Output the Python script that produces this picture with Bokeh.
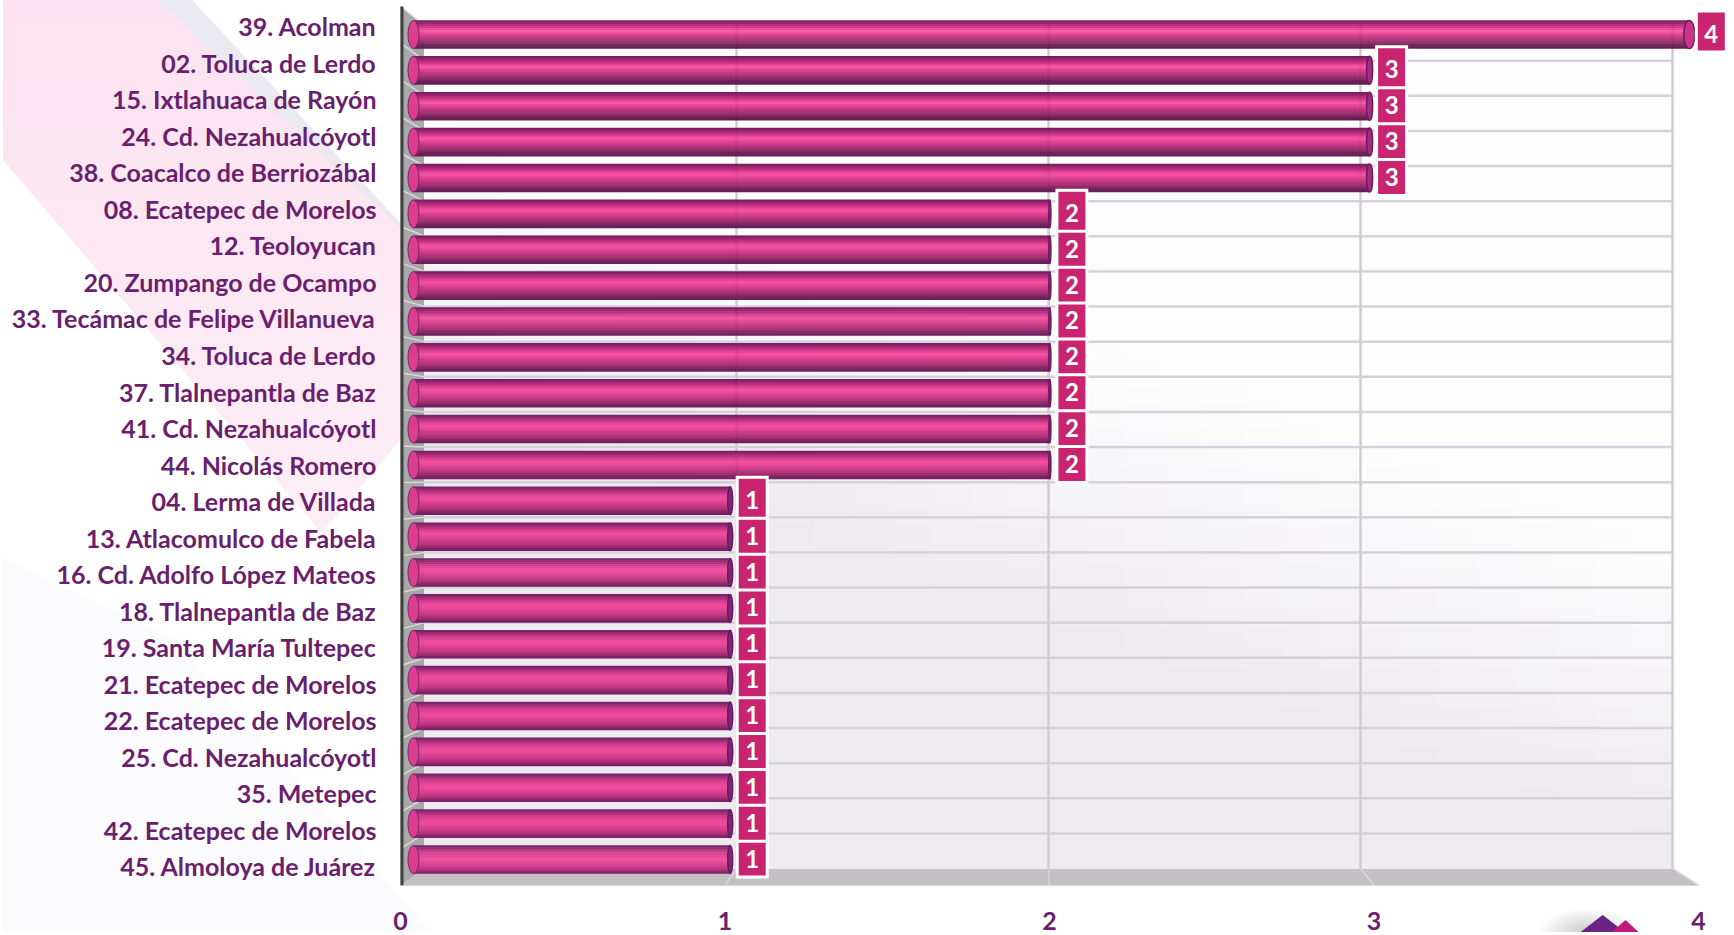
from urllib.parse import quote
from bokeh.plotting import figure
from bokeh.models import Range1d, LinearAxis, FixedTicker
from bokeh.core.properties import value
from bokeh.embed import file_html
from bokeh.resources import INLINE

categories = [
    "39. Acolman", "02. Toluca de Lerdo", "15. Ixtlahuaca de Rayón", "24. Cd. Nezahualcóyotl",
    "38. Coacalco de Berriozábal", "08. Ecatepec de Morelos", "12. Teoloyucan", "20. Zumpango de Ocampo",
    "33. Tecámac de Felipe Villanueva", "34. Toluca de Lerdo", "37. Tlalnepantla de Baz",
    "41. Cd. Nezahualcóyotl", "44. Nicolás Romero", "04. Lerma de Villada", "13. Atlacomulco de Fabela",
    "16. Cd. Adolfo López Mateos", "18. Tlalnepantla de Baz", "19. Santa María Tultepec",
    "21. Ecatepec de Morelos", "22. Ecatepec de Morelos", "25. Cd. Nezahualcóyotl", "35. Metepec",
    "42. Ecatepec de Morelos", "45. Almoloya de Juárez",
]
values = [4, 3, 3, 3, 3, 2, 2, 2, 2, 2, 2, 2, 2, 1, 1, 1, 1, 1, 1, 1, 1, 1, 1, 1]
x_ticks = [0, 1, 2, 3, 4]

TEXT = "#6a1f6e"
PINK = "#c9246f"
FONT = "Lato"

W, H = 1734, 935
FL, FT, FR, FB = 400, 0, 1734, 885   # frame in canvas pixels
PXU = 324.5     # front plane: pixels per unit
ROW = 35.87     # pixels per bar row
R0 = 34         # y of first bar centre

# Page decoration, painted as the figure's CSS background
BG_SVG = (
    "<svg xmlns='http://www.w3.org/2000/svg' width='1734' height='935' viewBox='0 0 1734 935'>"
    "<defs><linearGradient id='a' x1='0' y1='0' x2='0' y2='1'>"
    "<stop offset='0' stop-color='#fbe2f0'/><stop offset='1' stop-color='#fdeef6'/></linearGradient>"
    "<radialGradient id='g'><stop offset='0' stop-color='#c8c8c8'/>"
    "<stop offset='1' stop-color='#ffffff'/></radialGradient></defs>"
    "<rect x='0' y='0' width='1734' height='935' fill='#ffffff'/>"
    "<polygon points='0,560 170,640 430,935 0,935' fill='#fbfafc'/>"
    "<polygon points='150,0 190,0 400,225 400,300' fill='#ebe9f0'/>"
    "<polygon points='0,0 155,0 400,230 400,440 320,535 0,160' fill='url(#a)'/>"
    "<ellipse cx='1590' cy='935' rx='50' ry='24' fill='url(#g)'/>"
    "<polygon points='1583,935 1605,918 1627,935' fill='#6a2382'/>"
    "<polygon points='1614,935 1628,923 1641,935' fill='#c4197c'/>"
    "</svg>"
)

p = figure(width=W, height=H, frame_width=FR - FL, frame_height=FB - FT,
           output_backend="svg", toolbar_location=None,
           x_axis_location=None, y_axis_location=None,
           min_border_left=FL, min_border_right=0,
           min_border_top=0, min_border_bottom=0,
           x_range=Range1d(0, (FR - FL) / PXU),
           y_range=Range1d((FB - R0) / ROW, (FT - R0) / ROW),
           outline_line_color=None, background_fill_color=None, border_fill_color=None)
p.styles = {"background-image": 'url("data:image/svg+xml,%s")' % quote(BG_SVG),
            "background-size": "100% 100%", "background-repeat": "no-repeat"}
p.grid.visible = False


def xd(px):
    return (px - FL) / PXU


def yd(py):
    return (py - R0) / ROW


def mix(a, b, t):
    t = max(0.0, min(1.0, t))
    ca = [int(a[i:i + 2], 16) for i in (1, 3, 5)]
    cb = [int(b[i:i + 2], 16) for i in (1, 3, 5)]
    return "#%02x%02x%02x" % tuple(round(u + (v - u) * t) for u, v in zip(ca, cb))


# --- 3D chart box
BX0, BPX = 424, 312   # back wall


def bx(v):
    return xd(BX0 + BPX * v)


BTOP, BBOT = 25, 868
p.patch([xd(400), xd(424), xd(424), xd(400)], [yd(6), yd(BTOP), yd(BBOT), yd(885)], color="#a8a8a8")
p.patch([xd(400), xd(424), xd(1672), xd(1699)], [yd(885), yd(BBOT), yd(BBOT), yd(885)], color="#c3bfc3")

# back wall gradient
NX, NY = 32, 42
l, r, t_, b = [], [], [], []
cols = []
for i in range(NX):
    for j in range(NY):
        x0 = 424 + (1672 - 424) * i / NX
        x1 = 424 + (1672 - 424) * (i + 1) / NX
        y0 = BTOP + (BBOT - BTOP) * j / NY
        y1 = BTOP + (BBOT - BTOP) * (j + 1) / NY
        l.append(xd(x0)); r.append(xd(x1)); t_.append(yd(y0)); b.append(yd(y1))
        tt = ((y0 + y1) / 2 - 100 - 0.35 * ((x0 + x1) / 2 - 400)) / 300
        cols.append(mix("#fdfdfd", "#edeaf0", tt))
p.quad(left=l, right=r, top=t_, bottom=b, fill_color=cols, line_color=cols, line_width=1)

# grid
for k in range(25):
    yb = BBOT - (BBOT - BTOP) / 24 * k
    yf = 885 - (885 - 6) / 24 * k
    if k:
        p.line([bx(0), bx(4)], [yd(yb), yd(yb)], line_color="#d6d0db", line_width=2.5)
        p.line([xd(400), bx(0)], [yd(yf), yd(yb)], line_color="#d9d9d9", line_width=1.5)
for v in x_ticks[1:]:
    p.line([bx(v), bx(v)], [yd(BTOP), yd(BBOT)], line_color="#dcd9de", line_width=2.5)
    p.line([bx(v), v], [yd(BBOT), yd(885)], line_color="#d9d6da", line_width=1.5)
p.line([0, 0], [yd(6), yd(885)], line_color="#404040", line_width=6)

# --- cylinders
TOP_STOPS = [(0, "#6d1a63"), (.07, "#8a1f63"), (.2, "#c22c7e"), (.38, "#fb5aa9"), (.55, "#d33a89"),
             (.8, "#8f2d68"), (.93, "#5b2050"), (1, "#6d1a63")]
BOT_STOPS = [(0, "#6a1c60"), (.08, "#8a2d73"), (.25, "#d53d8f"), (.5, "#f24f9e"), (.75, "#cf3b8b"),
             (.92, "#a12a74"), (1, "#6a1c60")]


def grad(stops, f):
    for (a, ca), (b_, cb) in zip(stops, stops[1:]):
        if f <= b_:
            return mix(ca, cb, (f - a) / (b_ - a))
    return stops[-1][1]


BAR_H = 28 / ROW
STRIPS = 14
X_START = xd(413)
SLOPE = 319.7 / PXU
CAP_W = {1: 5, 2: 2, 3: 6, 4: 11}
CAP_C = {1: "#762a75", 2: "#762a75", 3: "#a82c7c", 4: "#c9368a"}


def bar_end(v):
    return X_START + SLOPE * v - 3 / PXU


for row, v in enumerate(values):
    ys, cs = [], []
    for s in range(STRIPS):
        f = (s + .5) / STRIPS
        ys.append(row - BAR_H / 2 + BAR_H * f)
        cs.append(mix(grad(TOP_STOPS, f), grad(BOT_STOPS, f), row / 23))
    p.hbar(y=ys, left=X_START, right=bar_end(v), height=BAR_H / STRIPS * 1.3,
           fill_color=cs, line_color=None)

rows = list(range(len(values)))
p.ellipse(x=[X_START] * 24, y=rows, width=11, height=28, width_units="screen", height_units="screen",
          fill_color="#dd3d8e", line_color="#7a2470", line_width=1)
p.ellipse(x=[bar_end(v) for v in values], y=rows, width=[CAP_W[v] for v in values], height=28,
          width_units="screen", height_units="screen",
          fill_color=[CAP_C[v] for v in values], line_color="#6a1c60", line_width=1.5)
for v in x_ticks[1:]:
    p.line([bx(v), bx(v)], [yd(BTOP), yd(BBOT)], line_color="#3a1030", line_alpha=0.08, line_width=2)

# --- value labels (upper rows sit on top)
rrows = rows[::-1]
rvals = values[::-1]
lx = [bar_end(v) + 22 / PXU for v in rvals]
p.rect(x=lx, y=[r_ - 3 / ROW for r_ in rrows], width=30, height=41, width_units="screen", height_units="screen",
       fill_color=PINK, line_color="white", line_width=3, line_join="miter")
p.text(x=lx, y=[r_ - 1 / ROW for r_ in rrows], text=[str(v) for v in rvals], text_color="white",
       text_font=value(FONT), text_font_style="bold", text_font_size="24px",
       text_align="center", text_baseline="middle")

# --- axes
p.extra_y_ranges = {"labels": Range1d(len(categories) - 0.47, -0.5 - 8.75 / 36.54 + 0.03)}
yax = LinearAxis(y_range_name="labels", ticker=FixedTicker(ticks=list(range(len(categories)))),
                 major_label_overrides={i: c for i, c in enumerate(categories)})
yax.axis_line_color = None
yax.major_tick_line_color = None
yax.minor_tick_line_color = None
yax.major_label_standoff = 18
yax.major_label_text_color = TEXT
yax.major_label_text_font = FONT
yax.major_label_text_font_style = "bold"
yax.major_label_text_font_size = "25px"
p.add_layout(yax, "left")

xax = LinearAxis(ticker=FixedTicker(ticks=x_ticks))
xax.axis_line_color = None
xax.major_tick_line_color = None
xax.minor_tick_line_color = None
xax.major_label_standoff = 20
xax.major_label_text_color = TEXT
xax.major_label_text_font = FONT
xax.major_label_text_font_style = "bold"
xax.major_label_text_font_size = "25px"
p.add_layout(xax, "below")

open("out.html", "w").write(file_html(p, INLINE))
